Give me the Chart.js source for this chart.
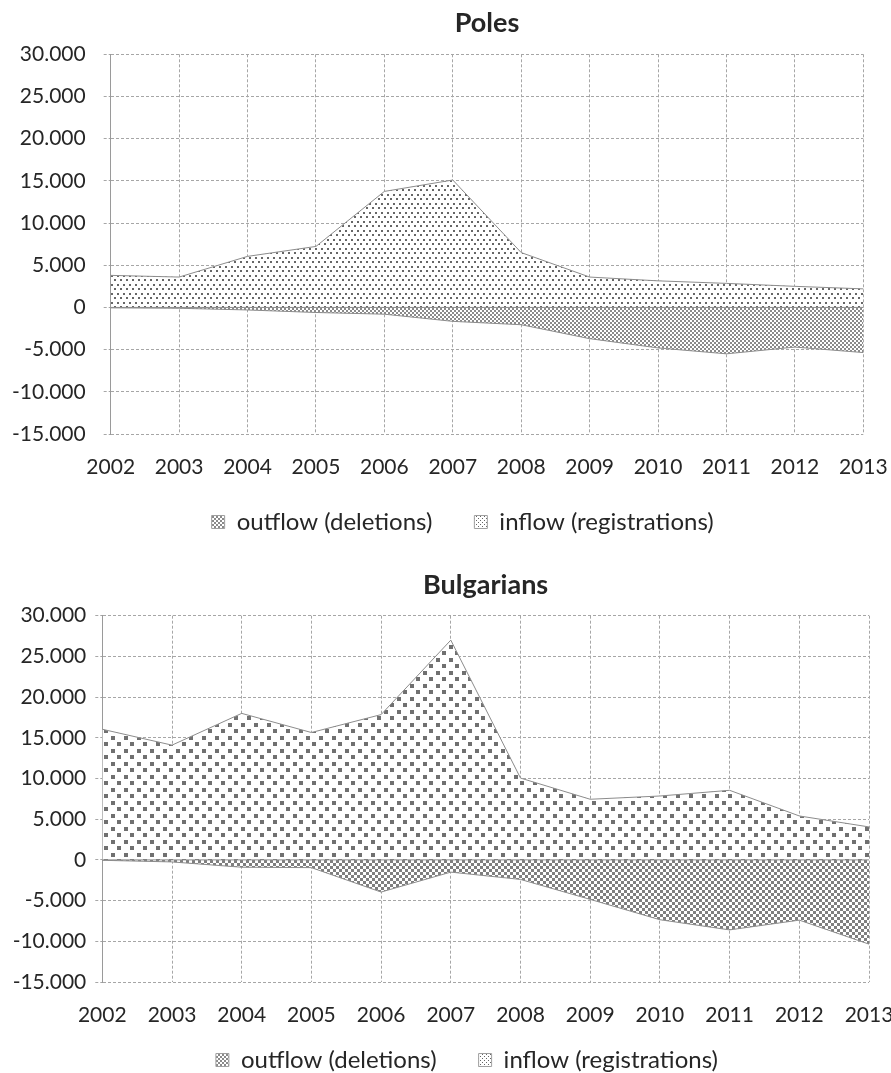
<!DOCTYPE html>
<html>
<head>
<meta charset="utf-8">
<script src="https://cdn.jsdelivr.net/npm/chart.js@4.4.1/dist/chart.umd.min.js"></script>
<style>
  html, body { margin: 0; padding: 0; background: #fff; }
  .wrap { position: absolute; left: 0; width: 891px; }
  #w1 { top: 0; height: 560px; }
  #w2 { top: 560px; height: 513px; }
</style>
</head>
<body>
<div class="wrap" id="w1"><canvas id="c1"></canvas></div>
<div class="wrap" id="w2"><canvas id="c2"></canvas></div>
<script>
// ---- data ----
const years = ['2002','2003','2004','2005','2006','2007','2008','2009','2010','2011','2012','2013'];
const seriesNames = ['outflow (deletions)', 'inflow (registrations)'];
const polesOutflow = [-50, -100, -300, -600, -800, -1650, -2050, -3700, -4800, -5500, -4700, -5350];
const polesInflow  = [3800, 3600, 6050, 7230, 13750, 15100, 6500, 3600, 3150, 2850, 2500, 2200];
const bulgOutflow  = [-50, -250, -900, -950, -3950, -1500, -2400, -4850, -7350, -8600, -7400, -10350];
const bulgInflow   = [16050, 14100, 18000, 15650, 17850, 27000, 10050, 7450, 7850, 8550, 5400, 4050];
const yMin = -15000, yMax = 30000, yStep = 5000;

// ---- helpers ----
function fmt(v) {
  const s = Math.abs(v).toString().replace(/\B(?=(\d{3})+(?!\d))/g, '.');
  return (v < 0 ? '-' : '') + s;
}
function pattern(w, h, draw) {
  const c = document.createElement('canvas');
  c.width = w; c.height = h;
  const g = c.getContext('2d');
  g.fillStyle = '#ffffff';
  g.fillRect(0, 0, w, h);
  draw(g);
  return document.getElementById('c1').getContext('2d').createPattern(c, 'repeat');
}
function checker(cell, color) {
  return pattern(cell * 2, cell * 2, g => {
    g.fillStyle = color;
    g.fillRect(0, 0, cell, cell);
    g.fillRect(cell, cell, cell, cell);
  });
}
function dots(w, h, s, color) {
  return pattern(w, h, g => {
    g.fillStyle = color;
    g.fillRect(0, 0, s, s);
    g.fillRect(Math.round(w / 2), Math.round(h / 2), s, s);
  });
}

const zeroLine = {
  id: 'zeroLine',
  afterDatasetsDraw(chart) {
    const y = chart.scales.y.getPixelForValue(0);
    const a = chart.chartArea;
    const ctx = chart.ctx;
    ctx.save();
    ctx.strokeStyle = '#8c8c8c';
    ctx.lineWidth = 1;
    ctx.beginPath();
    ctx.moveTo(a.left, y);
    ctx.lineTo(a.right, y);
    ctx.stroke();
    ctx.restore();
  }
};
// moves the legend box after layout (Excel centres it slightly off the canvas centre)
const legendShift = {
  id: 'legendShift',
  afterLayout(chart, args, opts) {
    const l = chart.legend;
    if (!l) return;
    l.left += opts.dx; l.right += opts.dx;
    l.top += opts.dy;
    l.bottom = Math.max(l.bottom, chart.height);
    l.height = l.bottom - l.top;
  }
};

const TEXT = '#262626';
const GRID = '#a6a6a6';
const legendOutPat = checker(2, '#8a8a8a');
const legendInPat = dots(4, 4, 1, '#666666');

function makeChart(id, title, outflow, inflow, lay) {
  new Chart(document.getElementById(id), {
    type: 'line',
    data: {
      labels: years,
      datasets: [
        {
          label: seriesNames[0], data: outflow, fill: 'origin',
          backgroundColor: lay.outPat, borderColor: '#8c8c8c', borderWidth: 1,
          pointRadius: 0, tension: 0
        },
        {
          label: seriesNames[1], data: inflow, fill: 'origin',
          backgroundColor: lay.inPat, borderColor: '#8c8c8c', borderWidth: 1,
          pointRadius: 0, tension: 0
        }
      ]
    },
    options: {
      responsive: true,
      maintainAspectRatio: false,
      animation: false,
      events: [],
      layout: { padding: { left: 0, right: lay.padR, top: 0, bottom: 0 } },
      plugins: {
        tooltip: { enabled: false },
        title: {
          display: true, text: title, fullSize: false,
          color: TEXT,
          font: { family: 'Lato', size: 27, weight: 'bold', lineHeight: 1.2 },
          padding: { top: lay.titleTop, bottom: lay.titleBottom }
        },
        legend: {
          position: 'bottom', align: 'center',
          maxHeight: lay.legH,
          labels: {
            color: TEXT,
            font: { family: 'Lato', size: 24 },
            boxWidth: 13, boxHeight: 13, padding: 42,
            generateLabels(chart) {
              const items = Chart.defaults.plugins.legend.labels.generateLabels(chart);
              items.forEach((it, i) => {
                it.fillStyle = i === 0 ? legendOutPat : legendInPat;
                it.strokeStyle = '#a0a0a0';
                it.lineWidth = 1;
              });
              return items;
            }
          }
        },
        legendShift: { dx: lay.legDx, dy: lay.legDy }
      },
      scales: {
        x: {
          type: 'category',
          offset: false,
          grid: { display: true, color: GRID, lineWidth: 1, drawTicks: false },
          border: { display: false, dash: [3, 2] },
          ticks: {
            color: TEXT, font: { family: 'Lato', size: 21 },
            padding: 21, maxRotation: 0, autoSkip: false
          },
          afterFit: s => { s.height = 50; s.paddingLeft = 0; s.paddingRight = 0; }
        },
        y: {
          min: yMin, max: yMax,
          grid: { color: GRID, lineWidth: 1, drawTicks: true, tickLength: 7, tickColor: GRID, tickBorderDash: [3, 2] },
          border: { display: true, color: '#9a9a9a', width: 1, dash: [3, 2] },
          ticks: {
            stepSize: yStep, color: TEXT, font: { family: 'Lato', size: 21 },
            padding: lay.yPad, callback: v => fmt(v)
          },
          afterFit: s => { s.width = lay.yW; s.paddingTop = 0; s.paddingBottom = 0; }
        }
      }
    },
    plugins: [zeroLine, legendShift]
  });
}

makeChart('c1', 'Poles', polesOutflow, polesInflow, {
  outPat: checker(2, '#8a8a8a'),
  inPat: dots(6, 9, 2, '#666666'),
  padR: 27.7, yW: 110.7, yPad: 18,
  titleTop: 6.6, titleBottom: 15.3,
  legH: 76.5, legDx: 31, legDy: -16
});
makeChart('c2', 'Bulgarians', bulgOutflow, bulgInflow, {
  outPat: checker(3, '#7f7f7f'),
  inPat: dots(13, 13, 4, '#707070'),
  padR: 22, yW: 102.3, yPad: 9,
  titleTop: 9.3, titleBottom: 14,
  legH: 41, legDx: 32.4, legDy: -26
});
</script>
</body>
</html>
